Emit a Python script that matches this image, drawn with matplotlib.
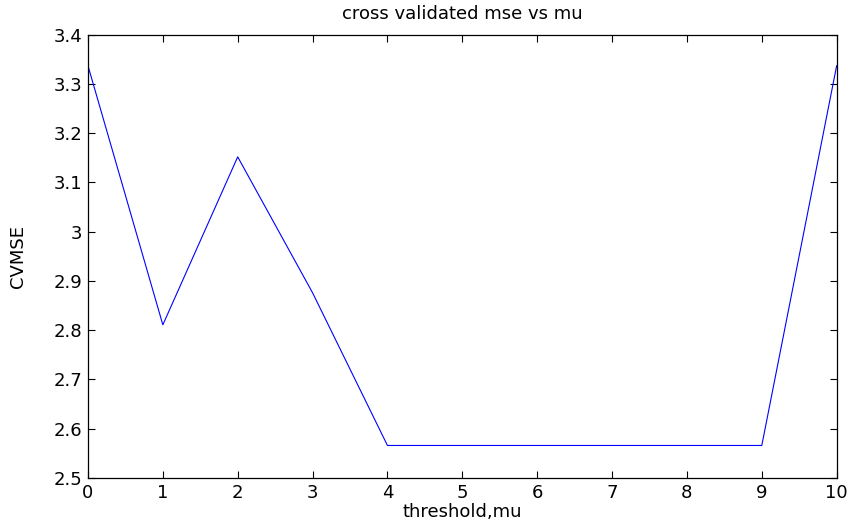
import matplotlib
matplotlib.use('Agg')
import matplotlib.pyplot as plt

# threshold values and the cross validated mse at each one
mu = [0, 1, 2, 3, 4, 5, 6, 7, 8, 9, 10]
cvmse = [3.337, 2.811, 3.152, 2.876, 2.566, 2.566, 2.566, 2.566, 2.566, 2.566, 3.337]
yticks = [2.5, 2.6, 2.7, 2.8, 2.9, 3.0, 3.1, 3.2, 3.3, 3.4]
ytick_labels = ['2.5', '2.6', '2.7', '2.8', '2.9', '3', '3.1', '3.2', '3.3', '3.4']

plt.rcParams['font.family'] = ['DejaVu Sans']

fig = plt.figure(figsize=(8.5, 5.26), dpi=100)
ax = fig.add_axes([0.1035, 0.0913, 0.8808, 0.8427])
ax.plot(mu, cvmse, color='#0000ff', linewidth=0.8)

ax.set_xlim(0, 10)
ax.set_ylim(2.5, 3.4)
ax.set_xticks(mu)
ax.set_yticks(yticks)
ax.set_yticklabels(ytick_labels)
ax.tick_params(direction='in', length=5, width=0.8, top=True, right=True,
               labelsize=13, pad=4)
for s in ax.spines.values():
    s.set_linewidth(0.9)

ax.set_title('cross validated mse vs mu', fontsize=13, pad=11)
ax.set_xlabel('threshold,mu', fontsize=13)
ax.set_ylabel('CVMSE', fontsize=13)
# pin the axis labels where they sit on the page
ax.xaxis.set_label_coords(0.5, -0.077)
ax.xaxis.label.set_va('center')
ax.yaxis.set_label_coords(-0.094, 0.5)
ax.yaxis.label.set_va('center')

fig.savefig('out.png', dpi=100)
